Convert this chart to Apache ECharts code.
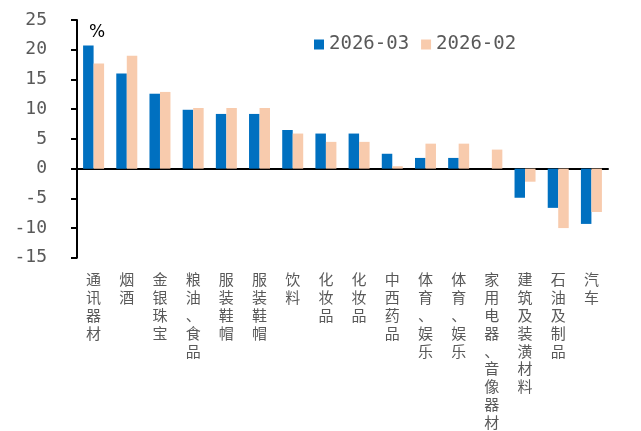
<!DOCTYPE html>
<html>
<head>
<meta charset="utf-8">
<script src="https://cdn.jsdelivr.net/npm/echarts@6/dist/echarts.min.js"></script>
<style>
  html, body { margin: 0; padding: 0; background: #fff; }
  #chart { width: 641px; height: 431px; }
</style>
</head>
<body>
<div id="chart"></div>
<script>
// Retail sales growth by category, year-on-year (%)
const categories = ['通讯器材', '烟酒', '金银珠宝', '粮油、食品', '服装鞋帽', '服装鞋帽', '饮料', '化妆品', '化妆品',
  '中西药品', '体育、娱乐', '体育、娱乐', '家用电器、音像器材', '建筑及装潢材料', '石油及制品', '汽车'];
const seriesNames = ['2026-03', '2026-02'];
const values2603 = [20.7, 16.0, 12.6, 9.9, 9.2, 9.2, 6.5, 5.9, 5.9, 2.5, 1.8, 1.8, null, -4.9, -6.6, -9.3];
const values2602 = [17.7, 19.0, 12.9, 10.2, 10.2, 10.2, 5.9, 4.5, 4.5, 0.4, 4.2, 4.2, 3.2, -2.2, -10.0, -7.3];
const yTicks = { min: -15, max: 25, step: 5 };
const unitLabel = '%';

const monoFont = '"DejaVu Sans Mono", "Liberation Mono", monospace';
const cjkFont = '"Noto Sans CJK SC", sans-serif';
const textGray = '#595959';

const chart = echarts.init(document.getElementById('chart'), null, { renderer: 'canvas' });

chart.setOption({
  animation: false,
  backgroundColor: '#ffffff',
  grid: { left: 77, right: 33, top: 20, bottom: 173, containLabel: false },
  legend: {
    left: 314,
    top: 35,
    padding: 0,
    itemWidth: 10,
    itemHeight: 10,
    itemGap: 12,
    icon: 'rect',
    textStyle: { fontFamily: monoFont, fontSize: 19, color: textGray },
    data: seriesNames
  },
  graphic: [{
    type: 'text',
    left: 89,
    top: 24,
    style: { text: unitLabel, font: '17px "DejaVu Sans", sans-serif', fill: '#000' }
  }],
  xAxis: [
    {
      type: 'category',
      data: categories,
      axisLine: { onZero: true, lineStyle: { color: '#000', width: 2 } },
      axisTick: { show: false },
      axisLabel: { show: false }
    },
    {
      type: 'category',
      data: categories,
      position: 'bottom',
      axisLine: { show: false, onZero: false },
      axisTick: { show: false },
      axisLabel: {
        interval: 0,
        margin: 13,
        fontFamily: cjkFont,
        fontSize: 15,
        lineHeight: 17.8,
        color: textGray,
        verticalAlign: 'top',
        formatter: v => v.split('').join('\n')
      }
    }
  ],
  yAxis: {
    type: 'value',
    min: yTicks.min,
    max: yTicks.max,
    interval: yTicks.step,
    axisLine: { show: true, lineStyle: { color: '#000', width: 2 } },
    axisTick: { show: true, length: 6, lineStyle: { color: '#000', width: 2 } },
    splitLine: { show: false },
    axisLabel: { margin: 30, fontFamily: monoFont, fontSize: 18, color: textGray }
  },
  series: [
    {
      name: seriesNames[0],
      type: 'bar',
      data: values2603,
      barWidth: 10.5,
      barGap: '0%',
      itemStyle: { color: '#0070C0' }
    },
    {
      name: seriesNames[1],
      type: 'bar',
      data: values2602,
      barWidth: 10.5,
      barGap: '0%',
      itemStyle: { color: '#F8CBAD' }
    }
  ]
});
</script>
</body>
</html>
